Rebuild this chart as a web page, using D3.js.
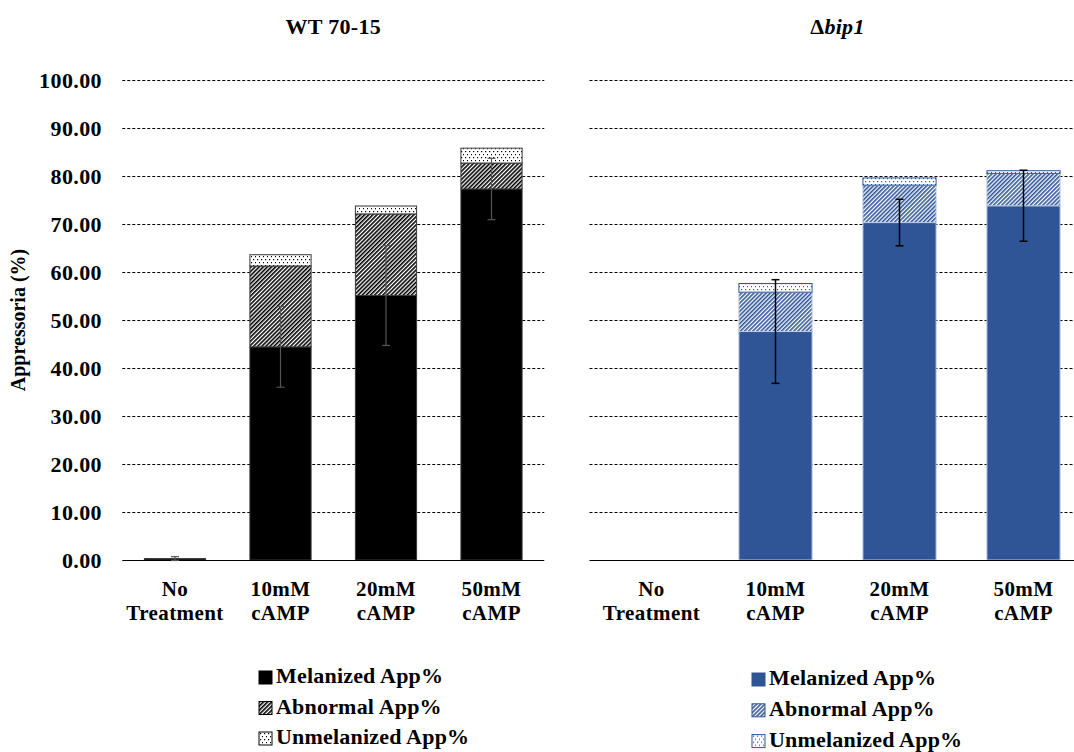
<!DOCTYPE html>
<html>
<head>
<meta charset="utf-8">
<script src="https://cdn.jsdelivr.net/npm/d3@7"></script>
<style>
  html, body { margin: 0; padding: 0; background: #fff; }
  svg { display: block; }
  text { font-family: "Liberation Serif", "Times New Roman", serif; font-weight: bold; fill: #000; }
</style>
</head>
<body>
<svg id="chart" width="1074" height="752"></svg>
<script>
// Treatments along the x axis
const categories = ["No Treatment", "10mM cAMP", "20mM cAMP", "50mM cAMP"];
const categoryLines = [["No", "Treatment"], ["10mM", "cAMP"], ["20mM", "cAMP"], ["50mM", "cAMP"]];

// WT 70-15 stacked percentages
const wtMelanized   = [0.30, 44.40, 55.10, 77.30];
const wtAbnormal    = [0.00, 16.85, 17.00, 5.40];
const wtUnmelanized = [0.00, 2.35, 1.65, 3.10];
const wtError       = [0.40, 8.40, 10.40, 6.40];

// Δbip1 stacked percentages
const bipMelanized   = [0.00, 47.60, 70.30, 73.80];
const bipAbnormal    = [0.00, 8.20, 7.80, 6.75];
const bipUnmelanized = [0.00, 1.80, 1.50, 0.55];
const bipError       = [0.00, 10.80, 4.85, 7.40];

const yTicks = [0, 10, 20, 30, 40, 50, 60, 70, 80, 90, 100];
const seriesNames = ["Melanized App%", "Abnormal App%", "Unmelanized App%"];

const svg = d3.select("#chart");
const defs = svg.append("defs");

// Fill patterns: diagonal hatch and dotted fill, per colour
function makePatterns(id, color) {
  const hatch = defs.append("pattern")
    .attr("id", "hatch-" + id)
    .attr("patternUnits", "userSpaceOnUse")
    .attr("width", 2.9).attr("height", 2.9)
    .attr("patternTransform", "rotate(45)");
  hatch.append("rect").attr("width", 2.9).attr("height", 2.9).attr("fill", "#fff");
  hatch.append("rect").attr("width", 1.6).attr("height", 2.9).attr("fill", color);

  const dots = defs.append("pattern")
    .attr("id", "dots-" + id)
    .attr("patternUnits", "userSpaceOnUse")
    .attr("width", 4).attr("height", 6);
  dots.append("rect").attr("width", 4).attr("height", 6).attr("fill", "#fff");
  dots.append("rect").attr("x", 1).attr("y", 1).attr("width", 1.2).attr("height", 1.2).attr("fill", color);
  dots.append("rect").attr("x", 3).attr("y", 4).attr("width", 1.2).attr("height", 1.2).attr("fill", color);
}
makePatterns("black", "#000");
makePatterns("blue", "#2F5597");

const y = d3.scaleLinear().domain([0, 100]).range([560, 80]);

function drawPanel(opts) {
  const x = d3.scaleBand().domain(categories).range(opts.range).paddingInner(opts.pad).paddingOuter(opts.pad / 2);
  const g = svg.append("g");

  // dashed gridlines
  g.selectAll("line.grid").data(yTicks.filter(d => d > 0)).enter().append("line")
    .attr("x1", opts.range[0]).attr("x2", Math.min(opts.range[1], 1074))
    .attr("y1", d => Math.round(y(d)) + 0.5).attr("y2", d => Math.round(y(d)) + 0.5)
    .attr("stroke", "#000").attr("stroke-width", 1).attr("stroke-dasharray", "3,2");

  // stacked segments
  const rows = categories.map((c, i) => ({ c, m: opts.mel[i], a: opts.abn[i], u: opts.unm[i], e: opts.err[i] }));
  const stack = d3.stack().keys(["m", "a", "u"])(rows);
  const fills = [opts.color, "url(#hatch-" + opts.id + ")", "url(#dots-" + opts.id + ")"];

  stack.forEach((layer, li) => {
    g.selectAll(null).data(layer.filter(d => d[1] - d[0] > 0)).enter().append("rect")
      .attr("x", d => x(d.data.c))
      .attr("width", x.bandwidth())
      .attr("y", d => y(d[1]))
      .attr("height", d => y(d[0]) - y(d[1]))
      .attr("fill", fills[li])
      .attr("stroke", li === 2 ? opts.topStroke : opts.stroke)
      .attr("stroke-width", 1);
  });

  // baseline
  g.append("line")
    .attr("x1", opts.range[0]).attr("x2", Math.min(opts.range[1], 1074))
    .attr("y1", y(0) + 0.5).attr("y2", y(0) + 0.5)
    .attr("stroke", "#000").attr("stroke-width", 1.2);

  // error bars around the melanized value
  const eb = g.selectAll("g.err").data(rows.filter(d => d.e > 0)).enter().append("g");
  const cx = d => x(d.c) + x.bandwidth() / 2;
  eb.append("line").attr("x1", cx).attr("x2", cx)
    .attr("y1", d => y(d.m + d.e)).attr("y2", d => y(d.m - d.e))
    .attr("stroke", opts.errColor).attr("stroke-width", opts.errWidth);
  [1, -1].forEach(s => {
    eb.append("line").attr("x1", d => cx(d) - 4).attr("x2", d => cx(d) + 4)
      .attr("y1", d => y(d.m + s * d.e)).attr("y2", d => y(d.m + s * d.e))
      .attr("stroke", opts.errColor).attr("stroke-width", opts.errWidth);
  });

  // x labels
  categories.forEach((c, i) => {
    const t = g.append("text").attr("text-anchor", "middle")
      .style("font-size", "21px").style("letter-spacing", "0.4px");
    categoryLines[i].forEach((ln, k) => {
      t.append("tspan").attr("x", x(c) + x.bandwidth() / 2).attr("y", 595.5 + k * 24).text(ln);
    });
  });

  // title
  const mid = (opts.range[0] + opts.range[1]) / 2;
  const title = g.append("text").attr("x", mid).attr("y", 34)
    .attr("text-anchor", "middle").style("font-size", "22px").style("letter-spacing", "0.3px");
  opts.title.forEach(p => title.append("tspan").style("font-style", p.italic ? "italic" : "normal").text(p.t));

  // legend
  const lg = g.append("g").attr("transform", `translate(${opts.legend[0]},${opts.legend[1]})`);
  seriesNames.forEach((name, i) => {
    const row = lg.append("g").attr("transform", `translate(0,${i * opts.legendStep})`);
    row.append("rect").attr("x", 0).attr("y", -12).attr("width", 13).attr("height", 13)
      .attr("fill", fills[i]).attr("stroke", opts.legendStroke).attr("stroke-width", 1);
    row.append("text").attr("x", 17).attr("y", 0)
      .style("font-size", "22px").style("letter-spacing", "0.2px").text(name);
  });
}

// WT panel
drawPanel({
  id: "black", color: "#000", stroke: "#3a3a3a", topStroke: "#3a3a3a", legendStroke: "#000",
  range: [122.25, 544.25], pad: 0.42,
  mel: wtMelanized, abn: wtAbnormal, unm: wtUnmelanized, err: wtError,
  errColor: "#555", errWidth: 1.2,
  title: [{ t: "WT 70-15" }],
  legend: [259, 683], legendStep: 30.5
});

// Δbip1 panel
drawPanel({
  id: "blue", color: "#2F5597", stroke: "#b8c8e4", topStroke: "#2F5597", legendStroke: "#2F5597",
  range: [589.5, 1085.5], pad: 0.41,
  mel: bipMelanized, abn: bipAbnormal, unm: bipUnmelanized, err: bipError,
  errColor: "#000", errWidth: 1.5,
  title: [{ t: "Δ" }, { t: "bip1", italic: true }],
  legend: [752, 685], legendStep: 30.8
});

// y axis tick labels (left panel only)
svg.append("g").selectAll("text").data(yTicks).enter().append("text")
  .attr("x", 102).attr("y", d => y(d))
  .attr("dy", "0.35em").attr("text-anchor", "end")
  .style("font-size", "22px").style("letter-spacing", "0.4px")
  .text(d => d3.format(".2f")(d));

// y axis title
svg.append("text")
  .attr("transform", "translate(25,320) rotate(-90)")
  .attr("text-anchor", "middle").style("font-size", "20px")
  .text("Appressoria (%)");
</script>
</body>
</html>
